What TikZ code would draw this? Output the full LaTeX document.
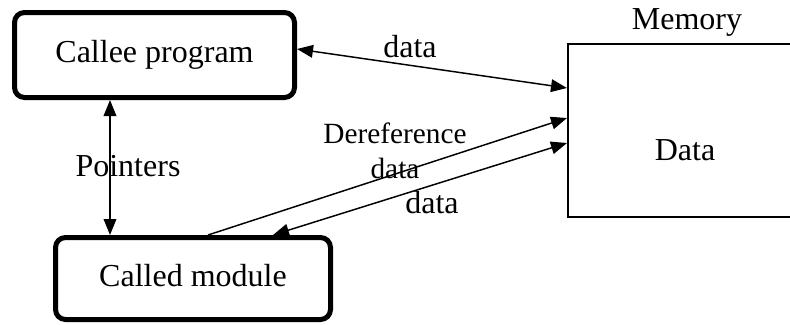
\documentclass[tikz,border=0pt]{standalone}
\usepackage{fontspec}
\setmainfont{Liberation Serif}
\usetikzlibrary{arrows.meta, positioning}
\tikzset{
  every picture/.style={line width=1.1pt},
  unit/.style={draw=black, rounded corners=7.5pt, line width=3.75pt, inner sep=0pt},
  store/.style={draw=black, line width=1.5pt, inner sep=0pt},
  arrow/.style={-{Triangle[length=12pt, width=9.5pt]}, draw=black, line width=1.1pt},
  twoway/.style={{Triangle[length=12pt, width=9.5pt]}-{Triangle[length=12pt, width=9.5pt]}, draw=black, line width=1.1pt},
  tag/.style={font=\fontsize{24}{28}\selectfont, inner sep=0pt},
}

\begin{document}
\begin{tikzpicture}[x=0.75pt, y=-0.75pt,
  every node/.append style={font=\fontsize{24}{28}\selectfont}]
  \useasboundingbox (0,0) rectangle (790,325);
  \node[unit, minimum width=210pt, minimum height=63.75pt] (callee) at (154.5, 55) {\raisebox{4pt}{Callee program}};
  \node[unit, minimum width=206.25pt, minimum height=61.5pt] (called) at (193, 278.5) {\raisebox{4pt}{Called module}};
  \node[store, minimum width=168pt, minimum height=129.75pt] (mem) at (680, 130.5) {};
  \node[tag] (memlbl) at (687, 22) {Memory};
  \node[tag] (memdata) at (685, 150) {Data};
  \draw[twoway] (callee.east |- 0,49) -- (mem.west |- 0,88);
  \draw[twoway] (callee.south -| 110,0) -- (called.north -| 110,0);
  \draw[arrow] (called.north -| 208,0) -- (mem.west |- 0,118);
  \draw[twoway] (mem.west |- 0,143) -- (called.north -| 273,0);
  \node[tag] (lbltop) at (410, 47) {data};
  \node[tag] (lblptr) at (128, 166) {Pointers};
  \node[tag, font=\fontsize{22}{26}\selectfont] (lblderef) at (395, 133) {Dereference};
  \node[tag, font=\fontsize{22}{26}\selectfont] (lblderefdata) at (395, 168) {data};
  \node[tag] (lblback) at (432, 203) {data};
\end{tikzpicture}
\end{document}
